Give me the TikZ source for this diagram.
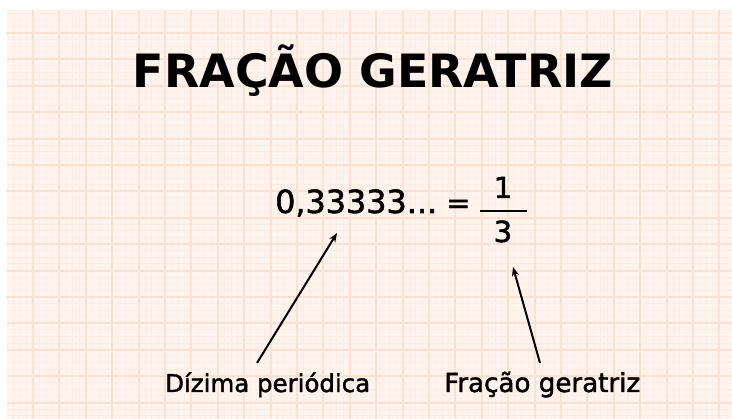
\documentclass[tikz,border=0pt]{standalone}
\usepackage{fontspec}
\setmainfont{DejaVu Sans}
\newfontfamily\semifont[FakeBold=1.6]{DejaVu Sans}
\usetikzlibrary{arrows.meta}
\definecolor{paper}{HTML}{FFF3EE}
\definecolor{gridmaj}{HTML}{FCE1D3}
\definecolor{gridmin}{HTML}{FEEDE5}
\tikzset{
  label/.style={font=\semifont\fontsize{22}{24}\selectfont, inner sep=0pt, anchor=base west},
  eqtext/.style={font=\semifont\fontsize{29}{30}\selectfont, inner sep=0pt},
  pointer/.style={line width=2pt, -{Stealth[length=9pt,width=7pt]}},
}
\begin{document}
\begin{tikzpicture}[x=1pt,y=-1pt]
\useasboundingbox (0,0) rectangle (732,419);
\fill[white] (0,0) rectangle (732,419);
\fill[paper] (7,10) rectangle (732,419);
% minor grid
\foreach \i in {0,...,115} {
  \pgfmathsetmacro\xx{6.6+6.6*\i}
  \ifdim\xx pt>7pt \draw[gridmin,line width=1pt] (\xx,10) -- (\xx,419); \fi
}
\foreach \i in {0,...,63} {
  \pgfmathsetmacro\yy{6.6+6.6*\i}
  \ifdim\yy pt>10pt \draw[gridmin,line width=1pt] (7,\yy) -- (732,\yy); \fi
}
% major grid
\foreach \i in {0,...,28} {
  \pgfmathsetmacro\xx{33+26.4*\i}
  \draw[gridmaj,line width=2pt] (\xx,10) -- (\xx,419);
}
\foreach \i in {0,...,16} {
  \pgfmathsetmacro\yy{33+26.4*\i}
  \draw[gridmaj,line width=2pt] (7,\yy) -- (732,\yy);
}
% title
\node[inner sep=0pt, anchor=base] (title) at (373,88)
  {\resizebox{480pt}{!}{\fontsize{48}{50}\selectfont\bfseries FRAÇÃO GERATRIZ}};
% equation
\node[inner sep=0pt, anchor=base west] (dec) at (275,213)
  {\resizebox{162pt}{!}{\semifont\fontsize{29}{30}\selectfont 0,33333...}};
\node[eqtext, anchor=base west] (eq) at (446,213) {=};
\node[eqtext, anchor=base] (num) at (503,198) {1};
\node[eqtext, anchor=base] (den) at (503,242) {3};
\coordinate (barL) at (480,211);
\coordinate (barR) at (527,211);
\draw[line width=2.6pt] (barL) -- (barR);
% labels
\node[label] (dizima) at (165,392) {\resizebox{205pt}{!}{Dízima periódica}};
\node[label] (geratriz) at (444,392) {\resizebox{196pt}{!}{Fração geratriz}};
% arrows
\coordinate (t1) at (337,233);
\coordinate (s1) at (257,363);
\coordinate (t2) at (513,267);
\coordinate (s2) at (540,363);
\draw[pointer] (s1) -- (t1);
\draw[pointer] (s2) -- (t2);
\end{tikzpicture}
\end{document}
